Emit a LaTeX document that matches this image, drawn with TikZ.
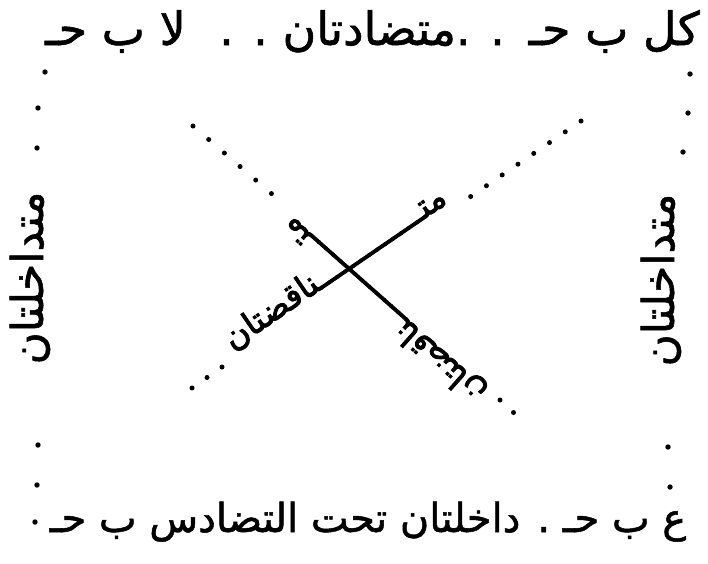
\documentclass[tikz,border=0pt]{standalone}
\usepackage{fontspec}
\TeXXeTstate=1
\newfontfamily\arabicfont[Script=Arabic,FakeBold=1.2]{DejaVu Sans}
\newfontfamily\arabicbold[Script=Arabic,FakeBold=2.6]{DejaVu Sans}
\begin{document}
\begin{tikzpicture}[x=1pt,y=-1pt,
  dotline/.style={line width=5pt,line cap=round,dash pattern=on 0pt off #1},
  lbl/.style={font=\arabicfont,inner sep=0pt,text=black},
  ]
\useasboundingbox[fill=white] (0,0) rectangle (708,563);
% corner / edge texts
\node[lbl,font=\arabicfont\fontsize{46}{52}\selectfont,anchor=base west] (E) at (45,45) {\beginR لا ب حـ\endR};
\node[lbl,font=\arabicfont\fontsize{46}{52}\selectfont,anchor=base east] (A) at (700,45) {\beginR كل ب حـ\endR};
\node[lbl,font=\arabicfont\fontsize{46}{52}\selectfont,anchor=base] (contr) at (362,45) {\beginR . .متضادتان . .\endR};
\node[lbl,font=\arabicfont\fontsize{40}{46}\selectfont,anchor=base] (bottom) at (368,532) {\beginR ع ب حـ . داخلتان تحت التضادس ب حـ\endR};
\node[lbl,font=\arabicfont\fontsize{44}{50}\selectfont,anchor=base,rotate=90] (left) at (43,278) {\beginR متداخلتان\endR};
\node[lbl,font=\arabicfont\fontsize{44}{50}\selectfont,anchor=base,rotate=90] (right) at (674,280) {\beginR متداخلتان\endR};
% diagonals
\node[lbl,font=\arabicbold\fontsize{33}{40}\selectfont,anchor=base,rotate=34.4] (d1) at (340.5,276.5) {\beginR متـــــــــــــناقضتان\endR};
\node[lbl,font=\arabicbold\fontsize{33}{40}\selectfont,anchor=base,rotate=138.5] (d2) at (390,303) {\beginR متـــــــــــــناقضتان\endR};
% dotted sides (scanned, irregular dots)
\foreach \p in {(45,72),(38,108),(37,148),(38,445),(37,485),(35,522),
                (690,74),(688,113),(683,152),(668,447),(670,487)}
  \fill \p circle (2.7pt);
% dotted diagonals
\coordinate (a1) at (193,126); \coordinate (a2) at (287,207);
\coordinate (a3) at (500,400); \coordinate (a4) at (527,425);
\coordinate (b1) at (581,121); \coordinate (b2) at (470,197);
\coordinate (b3) at (222,367); \coordinate (b4) at (192,388);
\draw[dotline=20.7pt] (a1) -- (a2);
\draw[dotline=18.4pt] (a3) -- (a4);
\draw[dotline=19.1pt] (b1) -- (b2);
\draw[dotline=18.3pt] (b3) -- (b4);
\end{tikzpicture}
\end{document}
